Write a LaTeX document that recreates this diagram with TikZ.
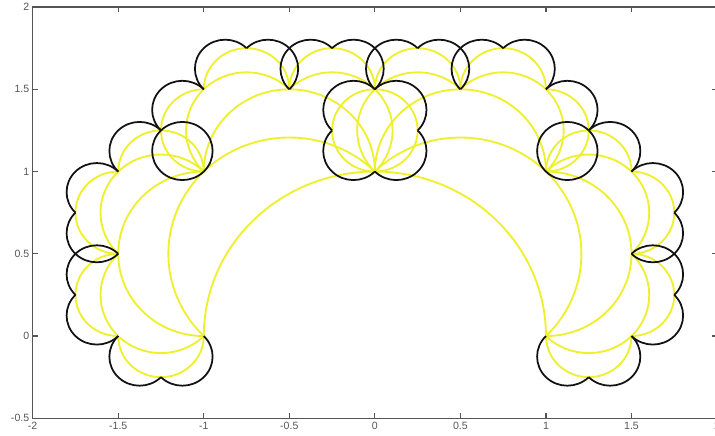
\documentclass[tikz,border=0pt]{standalone}
\usepackage{fontspec}
\setmainfont{Liberation Sans}
\usepackage{tikz}
\definecolor{levyyellow}{RGB}{238,240,45}
\definecolor{levyblack}{RGB}{18,18,18}
\definecolor{axisgray}{RGB}{85,85,85}
\tikzset{
  %% ---- arcs ----
  yellowarc/.style = {draw=levyyellow, line width=1.05pt},
  blackarc/.style  = {draw=levyblack, line width=1.0pt},
  %% ---- axes ----
  axisline/.style  = {draw=axisgray, line width=0.7pt},
  ticklabel/.style = {font=\fontsize{6}{7}\selectfont, text=axisgray, inner sep=1.8pt},
}
%% half circle over the chord (#1,#2)--(#3,#4), then the two halves of the next level
\def\levyfrom{0}
\def\levyto{4}
\def\levystyle{yellowarc}
\newcommand\levyseg[5]{%
  \begingroup
  \ifnum#5<\levyfrom\relax\else
    \pgfmathsetmacro\levyang{atan2(#2-#4,#1-#3)}%
    \pgfmathsetmacro\levyrad{veclen(#3-#1,#4-#2)/2}%
    \draw[\levystyle] (#1,#2) arc[start angle=\levyang, end angle=\levyang+180, radius=\levyrad];
  \fi
  \ifnum#5<\levyto\relax
    \pgfmathsetmacro\levyx{(#1+#3)/2+(#4-#2)/2}%
    \pgfmathsetmacro\levyy{(#2+#4)/2-(#3-#1)/2}%
    \edef\levynext{\noexpand\levyseg{#1}{#2}{\levyx}{\levyy}{\the\numexpr#5+1\relax}%
      \noexpand\levyseg{\levyx}{\levyy}{#3}{#4}{\the\numexpr#5+1\relax}}%
    \levynext
  \fi
  \endgroup}

\begin{document}
\begin{tikzpicture}[x=3.422cm, y=3.29cm]
\useasboundingbox (-2.191,-0.602) rectangle (1.988,2.043);

% levels 0 to 4 in yellow, level 5 in black
\def\levyfrom{0}\def\levyto{4}\def\levystyle{yellowarc}
\levyseg{1}{0}{-1}{0}{0}
\def\levyfrom{5}\def\levyto{5}\def\levystyle{blackarc}
\levyseg{1}{0}{-1}{0}{0}

% axes box and ticks
\draw[axisline] (-2,-0.5) rectangle (2,2);
\foreach \v [count=\k] in {-2,-1.5,-1,-0.5,0,0.5,1,1.5,2} {
  \draw[axisline] (\v,-0.5) -- ++(0,0.032);
  \draw[axisline] (\v,2) -- ++(0,-0.032);
  \node[ticklabel, below] (xtick\k) at (\v,-0.5) {\v};
}
\foreach \v [count=\k] in {-0.5,0,0.5,1,1.5,2} {
  \draw[axisline] (-2,\v) -- ++(0.03,0);
  \draw[axisline] (2,\v) -- ++(-0.03,0);
  \node[ticklabel, left] (ytick\k) at (-2,\v) {\v};
}
\end{tikzpicture}
\end{document}
